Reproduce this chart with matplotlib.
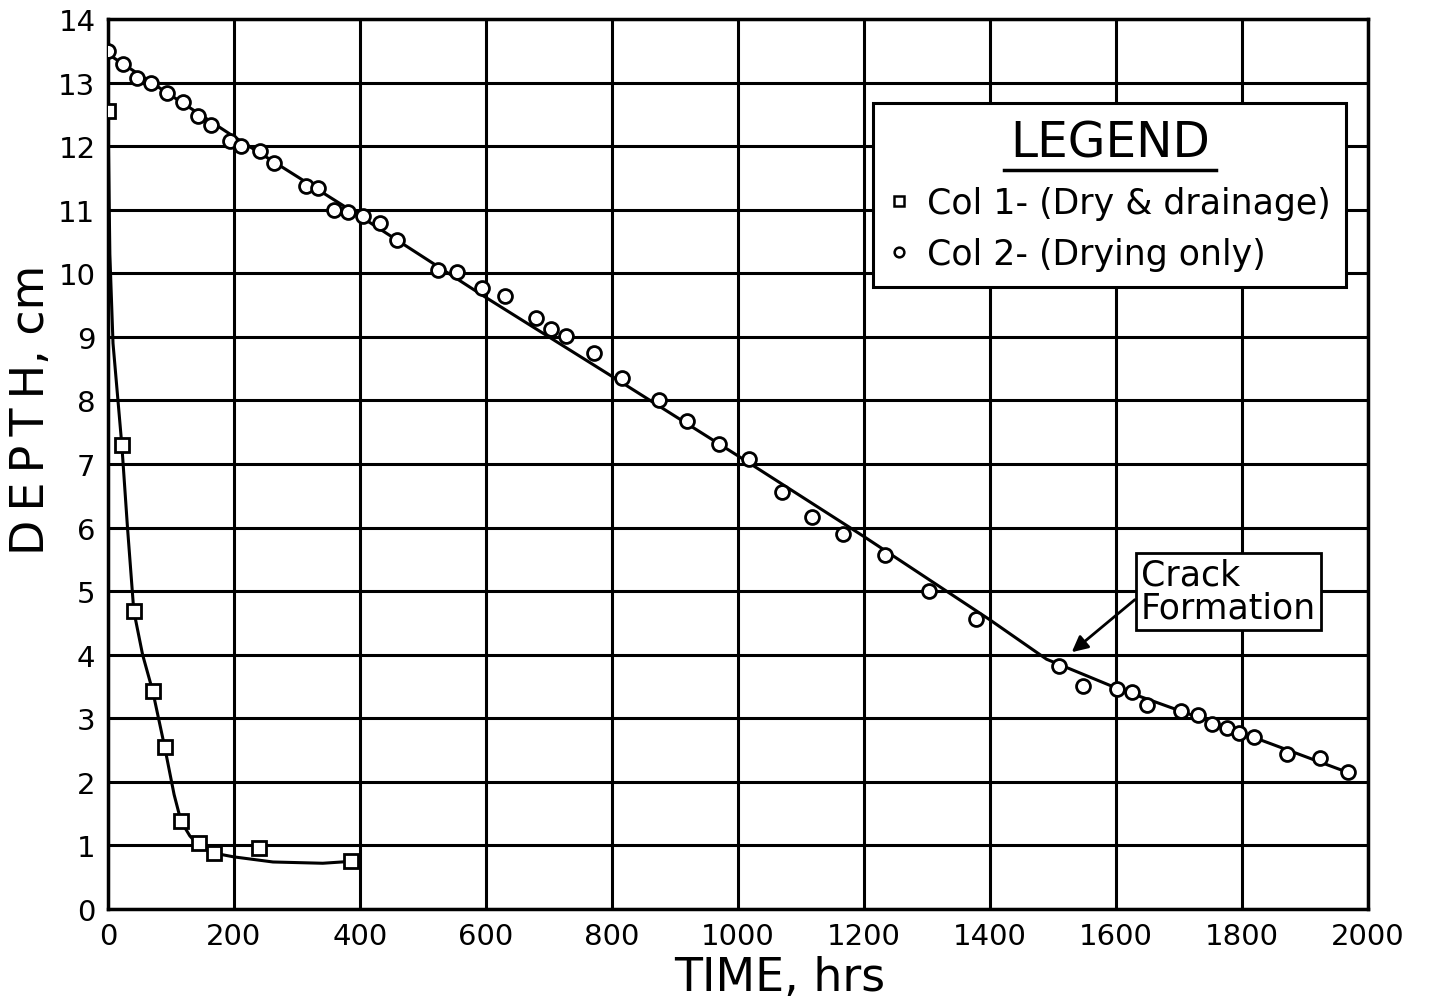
import matplotlib.pyplot as plt
from matplotlib.lines import Line2D

# Col 1 (dry & drainage) - measured points
col1_t = [0, 22, 41, 71, 90, 116, 144, 168, 240, 386]
col1_d = [12.55, 7.3, 4.69, 3.43, 2.55, 1.38, 1.04, 0.88, 0.96, 0.75]
# Col 1 fitted curve
fit1_t = [0, 3, 8, 15, 22, 31, 41, 55, 71, 90, 105, 116, 130, 144, 168, 200, 262, 341, 386]
fit1_d = [12.55, 10.3, 8.9, 8.1, 7.3, 6.0, 4.69, 4.0, 3.43, 2.55, 1.8, 1.38, 1.15, 1.0, 0.88, 0.82, 0.74, 0.72, 0.75]

# Col 2 (drying only) - measured points
col2_t = [0, 24, 46, 68, 94, 119, 143, 163, 194, 211, 241, 263, 314, 333, 359, 381,
          405, 432, 459, 524, 554, 594, 630, 679, 703, 727, 771, 816, 875, 919, 970,
          1017, 1070, 1117, 1167, 1233, 1303, 1378, 1510, 1548, 1602, 1625, 1649,
          1703, 1730, 1752, 1776, 1795, 1819, 1871, 1924, 1968]
col2_d = [13.49, 13.29, 13.08, 13.0, 12.83, 12.69, 12.47, 12.33, 12.08, 12.0, 11.92,
          11.73, 11.37, 11.34, 10.99, 10.97, 10.9, 10.79, 10.52, 10.06, 10.02, 9.77,
          9.64, 9.29, 9.12, 9.01, 8.74, 8.36, 8.0, 7.67, 7.31, 7.08, 6.56, 6.16, 5.9,
          5.57, 5.0, 4.57, 3.82, 3.51, 3.46, 3.41, 3.21, 3.11, 3.05, 2.91, 2.85, 2.77,
          2.7, 2.44, 2.37, 2.15]
# Col 2 fitted line
fit2_t = [0, 200, 400, 600, 800, 1000, 1200, 1400, 1490, 1600, 1800, 1968]
fit2_d = [13.45, 12.15, 10.9, 9.62, 8.38, 7.13, 5.86, 4.55, 3.93, 3.48, 2.77, 2.15]

xticks = list(range(0, 2001, 200))
yticks = list(range(0, 15))

plt.rcParams['font.family'] = ['DejaVu Sans']

fig = plt.figure(figsize=(14.3, 10.04), dpi=100)
ax = fig.add_axes([0.0755, 0.0936, 0.881, 0.8864])

ax.set_xlim(0, 2000)
ax.set_ylim(0, 14)
ax.set_xticks(xticks)
ax.set_yticks(yticks)
ax.grid(True, color='black', linewidth=2.2)
ax.set_axisbelow(True)
for s in ax.spines.values():
    s.set_linewidth(2.5)
ax.tick_params(length=0, labelsize=21, pad=9)

ax.plot(fit1_t, fit1_d, color='black', linewidth=2.2, zorder=3)
ax.plot(fit2_t, fit2_d, color='black', linewidth=2.2, zorder=3)
ax.plot(col1_t, col1_d, linestyle='none', marker='s', markersize=10,
        markerfacecolor='white', markeredgecolor='black', markeredgewidth=2, zorder=4)
ax.plot(col2_t, col2_d, linestyle='none', marker='o', markersize=10,
        markerfacecolor='white', markeredgecolor='black', markeredgewidth=2, zorder=4)

ax.set_xlabel('TIME, hrs', fontsize=33)
ax.set_ylabel('D\u2009E\u2009P\u2009T\u2009H, cm', fontsize=33)
ax.xaxis.set_label_coords(0.533, -0.052)
ax.yaxis.set_label_coords(-0.043, 0.562)

# legend
handles = [
    Line2D([], [], linestyle='none', marker='s', markersize=7, markerfacecolor='white',
           markeredgecolor='black', markeredgewidth=1.8),
    Line2D([], [], linestyle='none', marker='o', markersize=7, markerfacecolor='white',
           markeredgecolor='black', markeredgewidth=1.8),
]
leg = ax.legend(handles, ['Col 1- (Dry & drainage)', 'Col 2- (Drying only)'],
                title='LEGEND', title_fontsize=35, fontsize=25,
                loc='upper right', bbox_to_anchor=(0.983, 0.906),
                frameon=True, fancybox=False, edgecolor='black', framealpha=1,
                handlelength=0.6, handletextpad=0.5, borderpad=0.45, labelspacing=0.5,
                borderaxespad=0)
leg.get_frame().set_linewidth(2.2)
leg.set_zorder(5)
leg._legend_box.sep = 14

# annotation
ax.annotate('Crack\nFormation', xy=(1530, 4.04), xytext=(1640, 5.0),
            fontsize=25, ha='left', va='center', linespacing=0.95,
            bbox=dict(boxstyle='square,pad=0.15', facecolor='white', edgecolor='black', linewidth=2),
            arrowprops=dict(arrowstyle='-|>', color='black', linewidth=2, mutation_scale=24,
                            shrinkA=0, shrinkB=0, relpos=(0, 0.45)),
            zorder=5)

# underline legend title
fig.canvas.draw()
bb = leg.get_title().get_window_extent()
inv = fig.transFigure.inverted()
(x0, y0) = inv.transform((bb.x0 - 6, bb.y0 - 4))
(x1, _) = inv.transform((bb.x1 + 6, bb.y0))
fig.add_artist(Line2D([x0, x1], [y0, y0], color='black', linewidth=2.5, zorder=6))

fig.savefig('out.png', dpi=100)
